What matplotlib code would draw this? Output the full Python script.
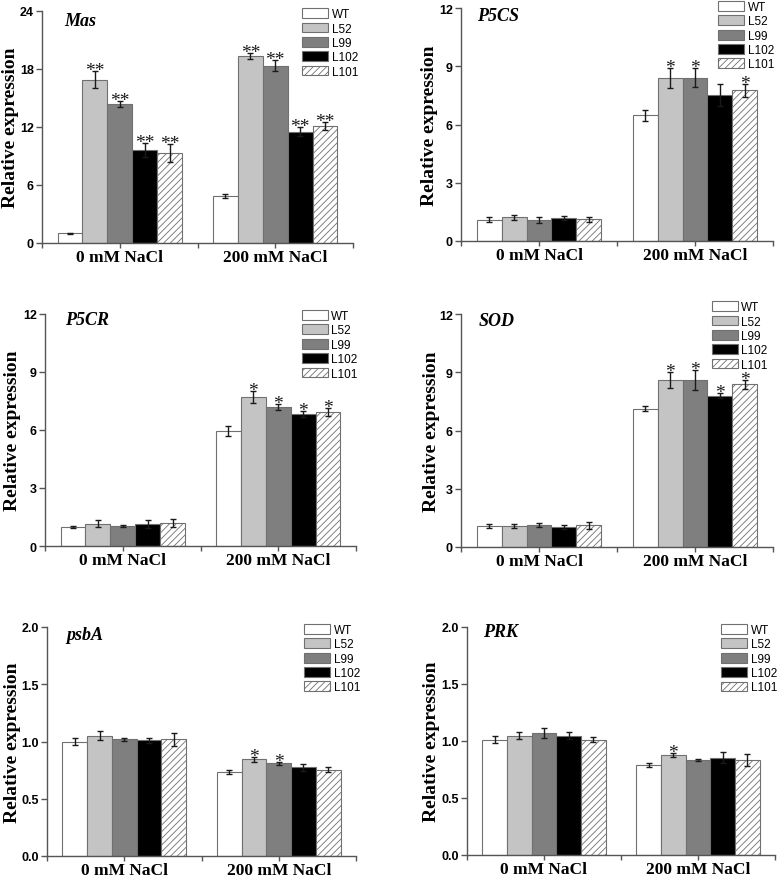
import matplotlib
matplotlib.use("Agg")
import matplotlib.pyplot as plt
from matplotlib.patches import Patch
import numpy as np

plt.rcParams['hatch.linewidth'] = 0.6

genes = ['Mas', 'P5CS', 'P5CR', 'SOD', 'psbA', 'PRK']
lines = ['WT', 'L52', 'L99', 'L102', 'L101']
conditions = ['0 mM NaCl', '200 mM NaCl']

mas_0 = [1.0, 16.9, 14.4, 9.6, 9.3]
mas_0_err = [0.05, 0.9, 0.3, 0.75, 0.95]
mas_200 = [4.9, 19.35, 18.35, 11.5, 12.1]
mas_200_err = [0.2, 0.3, 0.6, 0.45, 0.4]

p5cs_0 = [1.1, 1.22, 1.1, 1.17, 1.12]
p5cs_0_err = [0.13, 0.13, 0.15, 0.1, 0.12]
p5cs_200 = [6.47, 8.38, 8.42, 7.54, 7.76]
p5cs_200_err = [0.28, 0.52, 0.5, 0.57, 0.33]

p5cr_0 = [0.97, 1.14, 1.05, 1.14, 1.2]
p5cr_0_err = [0.05, 0.18, 0.06, 0.22, 0.2]
p5cr_200 = [5.96, 7.72, 7.18, 6.84, 6.94]
p5cr_200_err = [0.27, 0.3, 0.15, 0.15, 0.2]

sod_0 = [1.08, 1.08, 1.13, 1.03, 1.13]
sod_0_err = [0.1, 0.1, 0.12, 0.1, 0.18]
sod_200 = [7.12, 8.61, 8.61, 7.8, 8.39]
sod_200_err = [0.13, 0.42, 0.51, 0.15, 0.23]

psba_0 = [1.0, 1.05, 1.018, 1.01, 1.018]
psba_0_err = [0.032, 0.04, 0.012, 0.02, 0.06]
psba_200 = [0.732, 0.843, 0.808, 0.776, 0.755]
psba_200_err = [0.015, 0.022, 0.015, 0.03, 0.018]

prk_0 = [1.01, 1.045, 1.07, 1.048, 1.013]
prk_0_err = [0.03, 0.03, 0.045, 0.03, 0.02]
prk_200 = [0.79, 0.876, 0.832, 0.855, 0.832]
prk_200_err = [0.015, 0.018, 0.01, 0.05, 0.055]

# significance marks per gene: [0 mM list, 200 mM list]
mas_sig = [['', '**', '**', '**', '**'], ['', '**', '**', '**', '**']]
p5cs_sig = [['', '', '', '', ''], ['', '*', '*', '', '*']]
p5cr_sig = [['', '', '', '', ''], ['', '*', '*', '*', '*']]
sod_sig = [['', '', '', '', ''], ['', '*', '*', '*', '*']]
psba_sig = [['', '', '', '', ''], ['', '*', '*', '', '']]
prk_sig = [['', '', '', '', ''], ['', '*', '', '', '']]

yticks_mas = [0, 6, 12, 18, 24]
yticks_mid = [0, 3, 6, 9, 12]
yticks_low = [0.0, 0.5, 1.0, 1.5, 2.0]

panels = [
    dict(gene='Mas', vals=[mas_0, mas_200], errs=[mas_0_err, mas_200_err], sig=mas_sig, ticks=yticks_mas, fmt='{:g}',
         rect=(42, 12, 311, 232), title=(0.071, 0.957), leg=(0.836, 1.012), ylab=-31),
    dict(gene='P5CS', vals=[p5cs_0, p5cs_200], errs=[p5cs_0_err, p5cs_200_err], sig=p5cs_sig, ticks=yticks_mid, fmt='{:g}',
         rect=(461, 9, 312, 233), title=(0.051, 0.966), leg=(0.824, 1.03), ylab=-31),
    dict(gene='P5CR', vals=[p5cr_0, p5cr_200], errs=[p5cr_0_err, p5cr_200_err], sig=p5cr_sig, ticks=yticks_mid, fmt='{:g}',
         rect=(45, 315, 311, 232), title=(0.064, 0.978), leg=(0.826, 1.017), ylab=-32.5),
    dict(gene='SOD', vals=[sod_0, sod_200], errs=[sod_0_err, sod_200_err], sig=sod_sig, ticks=yticks_mid, fmt='{:g}',
         rect=(461, 315, 312, 233), title=(0.058, 0.974), leg=(0.804, 1.055), ylab=-30),
    dict(gene='psbA', vals=[psba_0, psba_200], errs=[psba_0_err, psba_200_err], sig=psba_sig, ticks=yticks_low, fmt='{:.1f}',
         rect=(47, 628, 309, 229), title=(0.064, 0.969), leg=(0.832, 1.013), ylab=-34.5),
    dict(gene='PRK', vals=[prk_0, prk_200], errs=[prk_0_err, prk_200_err], sig=prk_sig, ticks=yticks_low, fmt='{:.1f}',
         rect=(467, 628, 308, 228), title=(0.052, 0.982), leg=(0.825, 1.013), ylab=-36),
]

W, H = 778, 878
fig = plt.figure(figsize=(W / 100, H / 100), dpi=100)

faces = ['white', '#c4c4c4', '#7f7f7f', 'black', 'white']
hatches = [None, None, None, None, '/////']
edge = '#707070'
bw = 0.16
centers = np.arange(1, len(conditions) + 1)
serif = ['Liberation Serif', 'DejaVu Serif']
sans = ['Liberation Sans', 'DejaVu Sans']

for k, p in enumerate(panels):
    x0, y0, w, h = p['rect']
    ax = fig.add_axes([x0 / W, 1 - (y0 + h) / H, w / W, h / H])
    for i, ln in enumerate(lines):
        xs = centers + (i - 2) * bw
        ys = [p['vals'][c][i] for c in range(len(conditions))]
        es = [p['errs'][c][i] for c in range(len(conditions))]
        ax.bar(xs, ys, width=bw, color=faces[i], edgecolor=edge, linewidth=0.8,
               hatch=hatches[i], zorder=2)
        ax.errorbar(xs, ys, yerr=es, fmt='none', ecolor='#1a1a1a', elinewidth=1.0,
                    capsize=2.5, capthick=1.0, zorder=3)
        for c in range(len(conditions)):
            s = p['sig'][c][i]
            if s:
                ax.annotate(s, xy=(xs[c], ys[c] + es[c]), xytext=(0, -2.8),
                            textcoords='offset points', ha='center', va='baseline',
                            fontsize=14, family=serif, color='#1a1a1a')
    ax.set_xlim(0.5, 2.5)
    ax.set_ylim(p['ticks'][0], p['ticks'][-1])
    ax.set_yticks(p['ticks'])
    ax.set_yticklabels([p['fmt'].format(t) for t in p['ticks']],
                       fontsize=9, fontweight='bold', family=sans)
    ax.set_xticks(centers)
    ax.set_xticklabels(conditions, fontsize=12.5, fontweight='bold', family=serif)
    ax.set_xticks([0.5, 1.5, 2.5], minor=True)
    for s in ['top', 'right']:
        ax.spines[s].set_visible(False)
    for s in ['left', 'bottom']:
        ax.spines[s].set_color('#555555')
        ax.spines[s].set_linewidth(1.0)
    ax.tick_params(axis='both', which='both', direction='out', color='#555555', width=1.0)
    ax.tick_params(axis='y', length=4, pad=2)
    ax.tick_params(axis='x', which='major', length=3.5, pad=0.5 if k >= 4 else 1)
    ax.tick_params(axis='x', which='minor', length=3.5)
    ax.set_ylabel('Relative expression', fontsize=14, fontweight='bold', family=serif, va='center')
    ax.yaxis.set_label_coords(p['ylab'] / w, 0.5)
    ax.text(p['title'][0], p['title'][1], p['gene'], transform=ax.transAxes,
            fontsize=13, fontweight='bold', fontstyle='italic', family=serif,
            ha='left', va='center')
    handles = [Patch(facecolor=faces[i], edgecolor=edge, linewidth=0.8, hatch=hatches[i])
               for i in range(len(lines))]
    ax.legend(handles, lines, loc='upper left', bbox_to_anchor=p['leg'], frameon=False,
              prop={'family': sans, 'size': 8.5}, handlelength=2.2, handleheight=0.9,
              handletextpad=0.3, labelspacing=0.2, borderpad=0, borderaxespad=0)

fig.savefig('out.png', dpi=100)
